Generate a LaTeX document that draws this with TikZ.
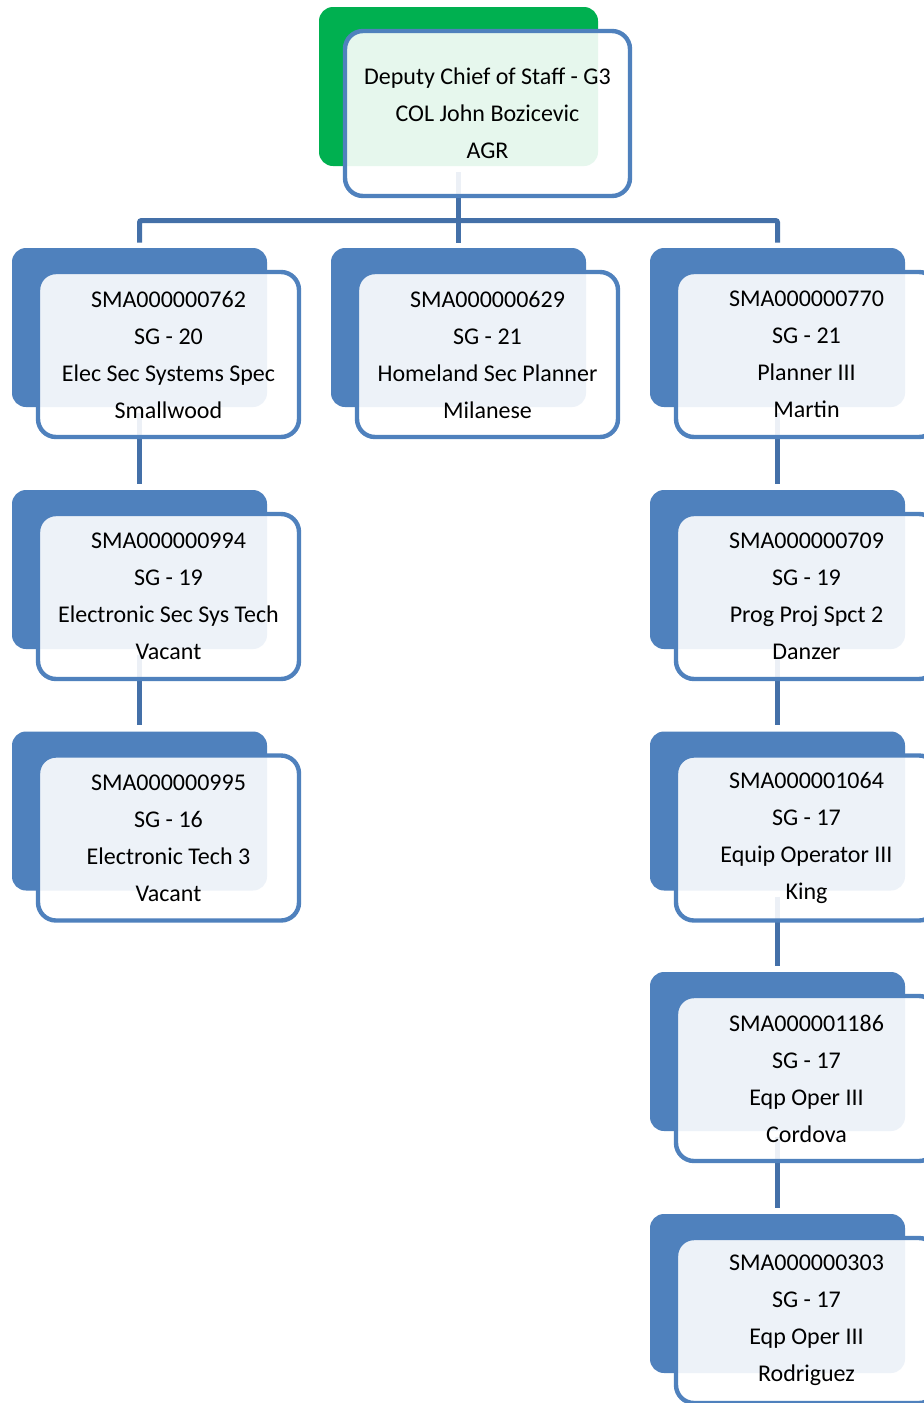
\documentclass[tikz,border=0pt]{standalone}
\usepackage{fontspec}
\setmainfont{Carlito}
\usetikzlibrary{backgrounds}
\definecolor{boxblue}{RGB}{79,129,189}
\definecolor{chiefgreen}{RGB}{0,176,80}
\definecolor{linkblue}{RGB}{68,112,168}
\begin{document}
\begin{tikzpicture}[x=0.5pt,y=-0.5pt,
  backbox/.style={rounded corners=7pt, fill=boxblue, inner sep=0pt,
    minimum width=127.5pt, minimum height=79.5pt},
  frontbox/.style={draw=boxblue, line width=2.2pt, rounded corners=9pt,
    fill=white, fill opacity=0.9, text opacity=1, inner sep=0pt,
    minimum width=130.5pt, minimum height=82.5pt, align=center,
    font=\fontsize{12}{18.5}\selectfont},
  conn/.style={draw=linkblue, line width=2.5pt, rounded corners=1pt}]
\useasboundingbox (0,0) rectangle (924,1403);
\clip (0,0) rectangle (924,1403);

% back plates
\node[backbox, fill=chiefgreen, minimum width=139.5pt] (b0) at (458.5,86.5) {};
\node[backbox] (b1) at (139.5,327.5) {};
\node[backbox] (b2) at (458.5,327.5) {};
\node[backbox] (b3) at (777.5,327.5) {};
\node[backbox] (b4) at (139.5,569.5) {};
\node[backbox] (b5) at (139.5,811) {};
\node[backbox] (b6) at (777.5,569.5) {};
\node[backbox] (b7) at (777.5,811) {};
\node[backbox] (b8) at (777.5,1051.5) {};
\node[backbox] (b9) at (777.5,1293.5) {};
\coordinate (bus) at (0,220.5);

% connectors, kept beneath the plates
\begin{scope}[on background layer]
  \fill[white] (0,0) rectangle (924,1403);
  \draw[conn] ([yshift=-3pt]b0.south) -- ([yshift=2.5pt]b2.north);
  \draw[conn] ([yshift=2.5pt]b1.north) |- (bus -| b3.north) -- ([yshift=2.5pt]b3.north);
  \draw[conn] ([yshift=-3pt]b1.south) -- ([yshift=3pt]b4.north);
  \draw[conn] ([yshift=-3pt]b4.south) -- ([yshift=3pt]b5.north);
  \draw[conn] ([yshift=-3pt]b3.south) -- ([yshift=3pt]b6.north);
  \draw[conn] ([yshift=-3pt]b6.south) -- ([yshift=3pt]b7.north);
  \draw[conn] ([yshift=-3pt]b7.south) -- ([yshift=3pt]b8.north);
  \draw[conn] ([yshift=-3pt]b8.south) -- ([yshift=3pt]b9.north);
\end{scope}

% front cards with the texts
\node[frontbox, minimum width=142.5pt] (f0) at (487.5,113.5)
  {Deputy Chief of Staff - G3\\COL John Bozicevic\\AGR};
\node[frontbox] (f1) at (168.5,354.5)
  {SMA000000762\\SG - 20\\Elec Sec Systems Spec\\Smallwood};
\node[frontbox] (f2) at (487.5,354.5)
  {SMA000000629\\SG - 21\\Homeland Sec Planner\\Milanese};
\node[frontbox] (f3) at (806.5,354.5)
  {SMA000000770\\SG - 21\\Planner III\\Martin};
\node[frontbox] (f4) at (168.5,596.5)
  {SMA000000994\\SG - 19\\Electronic Sec Sys Tech\\Vacant};
\node[frontbox] (f5) at (168.5,838)
  {SMA000000995\\SG - 16\\Electronic Tech 3\\Vacant};
\node[frontbox] (f6) at (806.5,596.5)
  {SMA000000709\\SG - 19\\Prog Proj Spct 2\\Danzer};
\node[frontbox] (f7) at (806.5,838)
  {SMA000001064\\SG - 17\\Equip Operator III\\King};
\node[frontbox] (f8) at (806.5,1078.5)
  {SMA000001186\\SG - 17\\Eqp Oper III\\Cordova};
\node[frontbox] (f9) at (806.5,1320.5)
  {SMA000000303\\SG - 17\\Eqp Oper III\\Rodriguez};
\end{tikzpicture}
\end{document}
